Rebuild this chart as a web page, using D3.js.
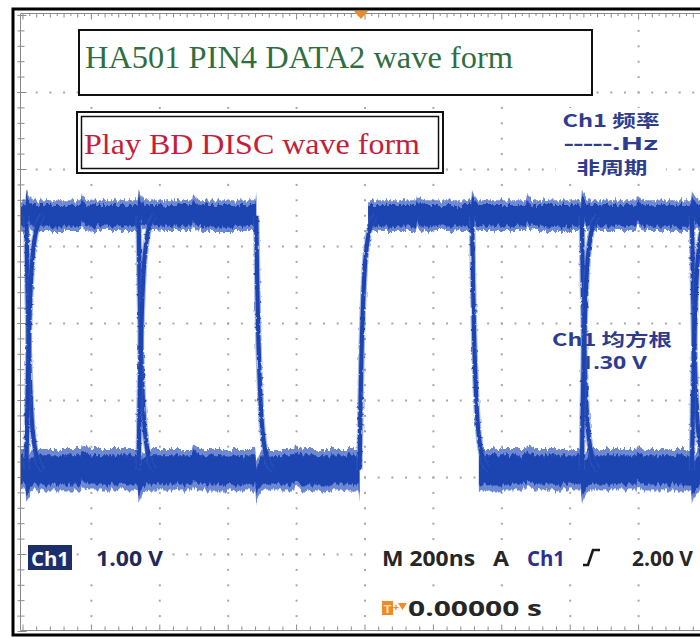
<!DOCTYPE html>
<html><head><meta charset="utf-8">
<script src="https://cdn.jsdelivr.net/npm/d3@7"></script>
<style>html,body{margin:0;padding:0;background:#fff;}svg{display:block;}</style>
</head><body>
<svg id="c" width="700" height="644"></svg>
<script>
// ---------------- data ----------------
const timeDomainNs = [-1000, 1000];   // M 200ns/div, 10 divisions, trigger at 0
const voltDomain   = [-2.1, 5.9];     // Ch1 1.00 V/div, 8 divisions
const hDivs = 10, vDivs = 8;
const highLevel = 3.3, lowLevel = 0.0;
const highSpans = [[-1010, -318], [9, 1010]];
const lowSpans  = [[-1010, -16], [333, 1010]];
const fallEdges = [-990, -662, -318, 313, 634, 956];
const riseEdges = [-990, -662, -16, 634, 956];
const rippleTimes = [-828, -503, -204, 152, 474, 796];
// fraction of step still to go vs ns after the edge starts
const edgeShape = [[0,1],[1.5,0.86],[3,0.73],[6,0.53],[10,0.36],[15,0.21],[22,0.11],[32,0.04],[48,0]];
const bumpShape = [[-3,0],[0,1],[5,0.6],[12,0.25],[22,0]];
const titleText = "HA501 PIN4 DATA2 wave form";
const subText = "Play BD DISC wave form";
const freqLines = ["Ch1 频率", "-----.Hz", "非周期"];
const rmsLines = ["Ch1 均方根", "1.30 V"];
const chLabel = "Ch1", voltsDiv = "1.00 V";
const timeDiv = "M 200ns", trigMode = "A", trigSrc = "Ch1", trigLevel = "2.00 V";
const trigPos = "0.00000 s";

// ---------------- scales ----------------
const svg = d3.select("#c");
const x = d3.scaleLinear().domain(timeDomainNs).range([23, 707]);
const y = d3.scaleLinear().domain(voltDomain).range([631.5, 15.5]);

const defs = svg.append("defs");
defs.append("clipPath").attr("id","plot").append("rect")
  .attr("x",21).attr("y",14).attr("width",679).attr("height",616);
const f1 = defs.append("filter").attr("id","noisy").attr("filterUnits","userSpaceOnUse")
  .attr("x",0).attr("y",0).attr("width",700).attr("height",644);
f1.append("feTurbulence").attr("type","fractalNoise").attr("baseFrequency","0.35 0.05")
  .attr("numOctaves",2).attr("seed",7).attr("result","n");
f1.append("feColorMatrix").attr("in","n").attr("type","matrix")
  .attr("values","0 0 0 0 0.5  0 1 0 0 0  0 0 1 0 0  0 0 0 0 1").attr("result","m");
f1.append("feDisplacementMap").attr("in","SourceGraphic").attr("in2","m")
  .attr("scale",10).attr("xChannelSelector","R").attr("yChannelSelector","G");
const f2 = defs.append("filter").attr("id","noisy2").attr("filterUnits","userSpaceOnUse")
  .attr("x",0).attr("y",0).attr("width",700).attr("height",644);
f2.append("feTurbulence").attr("type","fractalNoise").attr("baseFrequency","0.3 0.3")
  .attr("numOctaves",1).attr("seed",3).attr("result","n");
f2.append("feDisplacementMap").attr("in","SourceGraphic").attr("in2","n")
  .attr("scale",3).attr("xChannelSelector","R").attr("yChannelSelector","G");

// ---------------- grid ----------------
const grid = svg.append("g");
const dots = [];
for (let i = 1; i < hDivs; i++) {
  const t = timeDomainNs[0] + i * (timeDomainNs[1]-timeDomainNs[0]) / hDivs;
  for (let k = 1; k < vDivs*5; k++) dots.push([x(t), y(voltDomain[0] + k*0.2)]);
}
for (let j = 1; j < vDivs; j++) {
  const v = voltDomain[0] + j;
  for (let k = 1; k < hDivs*5; k++) dots.push([x(timeDomainNs[0] + k*40), y(v)]);
}
grid.selectAll("rect.d").data(dots).join("rect").attr("class","d")
  .attr("x",d=>d[0]-1).attr("y",d=>d[1]-1).attr("width",2).attr("height",2).attr("fill","#a8a8a8");

// frame
const fr = {l:20.5, t:13.5, b:630.5};
const frame = svg.append("g");
frame.append("path").attr("d",`M700,${fr.t}H${fr.l}V${fr.b}H700`).attr("fill","none").attr("stroke","#8a8a8a").attr("stroke-width",1);
for (let i = 0; i <= hDivs*10; i++) {
  const xx = x(timeDomainNs[0] + i*20); if (xx > 700) break;
  const len = i%10===0 ? 6 : (i%2===0 ? 4 : 2.5);
  frame.append("line").attr("x1",xx).attr("x2",xx).attr("y1",fr.t).attr("y2",fr.t+len).attr("stroke","#8a8a8a");
  if (i%2===0) frame.append("line").attr("x1",xx).attr("x2",xx).attr("y1",fr.b).attr("y2",fr.b-(i%10===0?6:4)).attr("stroke","#8a8a8a");
}
for (let k = 0; k <= vDivs*5; k++) {
  const yy = y(voltDomain[0] + k*0.2);
  frame.append("line").attr("x1",fr.l-3).attr("x2",fr.l+(k%5===0?6:4)).attr("y1",yy).attr("y2",yy).attr("stroke","#8a8a8a");
}
svg.append("rect").attr("x",13).attr("y",9).attr("width",710).attr("height",626)
  .attr("fill","none").attr("stroke","#000").attr("stroke-width",3);

// trigger position marker
const tx = x(0) - 4;
svg.append("path").attr("d",`M${tx-7},11L${tx+7},11L${tx},19Z`).attr("fill","#f08a24");

// ---------------- readouts ----------------
const sans = "'Open Sans','Noto Sans CJK SC',sans-serif";
const cjk = "'Noto Sans CJK SC','Open Sans',sans-serif";
function bg(x0,y0,w,h){ svg.append("rect").attr("x",x0).attr("y",y0).attr("width",w).attr("height",h).attr("fill","#fff"); }
function txt(s,x0,yb,size,color,len,opts={}){
  const t = svg.append("text").attr("x",x0).attr("y",yb).text(s)
    .attr("font-family",opts.family||sans).attr("font-size",size).attr("font-weight",opts.weight||700)
    .attr("fill",color).attr("text-anchor",opts.anchor||"start");
  if (len) t.attr("textLength",len).attr("lengthAdjust","spacingAndGlyphs");
  return t;
}
// title boxes
svg.append("rect").attr("x",79).attr("y",30).attr("width",513).attr("height",65).attr("fill","#fff").attr("stroke","#111").attr("stroke-width",2);
txt(titleText,85,68,32,"#2f6e3f",428,{family:"'Liberation Serif',serif",weight:400});
svg.append("rect").attr("x",77).attr("y",112).attr("width",366).attr("height",61).attr("fill","#fff").attr("stroke","#111").attr("stroke-width",2);
svg.append("rect").attr("x",81.5).attr("y",116.5).attr("width",357).attr("height",52).attr("fill","none").attr("stroke","#111").attr("stroke-width",1.5);
txt(subText,84,154,30,"#c41e3a",336,{family:"'Liberation Serif',serif",weight:400});

// measurement readouts
const blue = "#2e3c8e";
bg(556,108,110,72);
txt(freqLines[0],611,127,17,blue,97,{anchor:"middle",family:cjk});
txt(freqLines[1],611,150,17,blue,94,{anchor:"middle"});
txt(freqLines[2],612,174,17,blue,71,{anchor:"middle",family:cjk});
bg(548,328,128,46);
txt(rmsLines[0],552,346,17,blue,120,{family:cjk});
txt(rmsLines[1],580,369,18,blue,67);

// ---------------- waveform ----------------
function interp(shape, dt){
  if (dt <= shape[0][0]) return shape[0][1];
  for (let i = 1; i < shape.length; i++) if (dt <= shape[i][0]) {
    const [a,va] = shape[i-1], [b,vb] = shape[i];
    return va + (vb-va)*(dt-a)/(b-a);
  }
  return shape[shape.length-1][1];
}
const edgeTimes = Array.from(new Set(fallEdges.concat(riseEdges)));
function bandPoints(span, level, edgeAmp, rippleAmp){
  let ts = [span[0], span[1]];
  edgeTimes.concat(rippleTimes).forEach(tb => bumpShape.forEach(([o]) => ts.push(tb+o)));
  ts = ts.filter(t => t >= span[0] && t <= span[1]).sort((a,b)=>a-b);
  return ts.map(t => {
    let v = level;
    edgeTimes.forEach(tb => v += edgeAmp*interp(bumpShape, t-tb));
    rippleTimes.forEach(tb => v += rippleAmp*interp(bumpShape, t-tb));
    return [t, v];
  });
}
const wave = svg.append("g").attr("clip-path","url(#plot)");
const bands = wave.append("g").attr("filter","url(#noisy)");
function drawBand(spans, level, edgeAmp, rippleAmp, hwHalo, hwCore){
  spans.forEach(sp => {
    const pts = bandPoints(sp, level, edgeAmp, rippleAmp);
    const halo = d3.area().x(d=>x(d[0])).y0(d=>y(d[1]-hwHalo)).y1(d=>y(d[1]+hwHalo));
    const core = d3.area().x(d=>x(d[0])).y0(d=>y(d[1]-hwCore)).y1(d=>y(d[1]+hwCore));
    bands.append("path").attr("d",halo(pts)).attr("fill","#3d62c6").attr("opacity",0.75);
    bands.append("path").attr("d",core(pts)).attr("fill","#1f45b2");
  });
}
drawBand(highSpans, highLevel, 0.13, 0.07, 0.2, 0.14);
drawBand(lowSpans, lowLevel, -0.16, 0.06, 0.27, 0.19);

const edges = wave.append("g").attr("filter","url(#noisy2)");
const eLine = d3.line().x(d=>x(d[0])).y(d=>y(d[1])).curve(d3.curveMonotoneX);
function edgePts(t0, rising){
  return edgeShape.map(([dt,f]) => [t0+dt, rising ? highLevel-(highLevel-lowLevel)*f : lowLevel+(highLevel-lowLevel)*f]);
}
fallEdges.map(t=>edgePts(t,false)).concat(riseEdges.map(t=>edgePts(t,true))).forEach(p => {
  edges.append("path").attr("d",eLine(p)).attr("fill","none").attr("stroke","#3d62c6").attr("stroke-width",6.5).attr("opacity",0.45);
  edges.append("path").attr("d",eLine(p)).attr("fill","none").attr("stroke","#1f45b2").attr("stroke-width",4.2);
});

// ---------------- bottom readouts ----------------
const base = 566;
svg.append("rect").attr("x",28).attr("y",545).attr("width",44).attr("height",25).attr("fill","#1c2e6b");
txt(chLabel,31,base,20,"#fff",38);
bg(90,545,80,27);
txt(voltsDiv,96,base,21,"#1e2a5a",67);
bg(377,545,323,27);
txt(timeDiv,382,base,21,"#262626",93);
txt(trigMode,493,base,21,"#262626",16);
txt(trigSrc,527,base,21,"#2b2f8f",38);
svg.append("path").attr("d","M583,565H588L593,550H600").attr("fill","none").attr("stroke","#1a1a1a").attr("stroke-width",2.6);
txt(trigLevel,632,base,21,"#262626",61);
bg(378,596,170,26);
svg.append("rect").attr("x",382).attr("y",601).attr("width",11).attr("height",14).attr("fill","#f08a24");
txt("T",383.5,613,11,"#ffd9a8",8);
txt("+",393,611,10,"#f08a24",6);
svg.append("path").attr("d","M398,603L407,603L402.5,610Z").attr("fill","#f08a24");
txt(trigPos,408,616,21,"#262626",134);
</script>
</body></html>
